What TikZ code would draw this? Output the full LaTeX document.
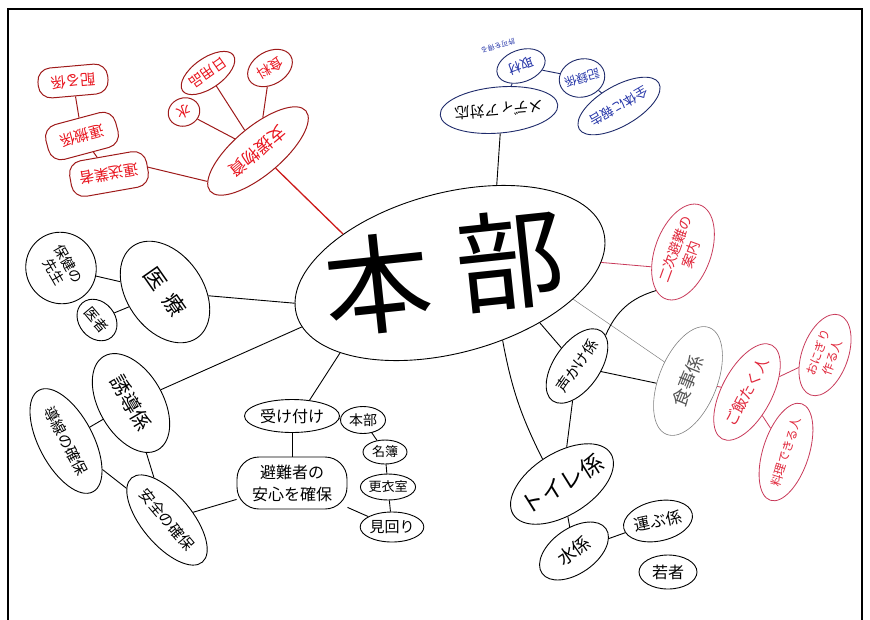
\documentclass[tikz,border=0pt]{standalone}
\usepackage{fontspec}
\setmainfont{Noto Sans CJK JP}
\usetikzlibrary{shapes.geometric}
\definecolor{dred}{HTML}{9E1A1A}
\definecolor{tred}{HTML}{E8141E}
\definecolor{mred}{HTML}{CC1A1A}
\definecolor{pline}{HTML}{C83A5A}
\definecolor{ptext}{HTML}{E0283C}
\definecolor{nline}{HTML}{1F2B6B}
\definecolor{ntext}{HTML}{2434A8}
\definecolor{gline}{HTML}{808080}
\definecolor{gtext}{HTML}{555555}
\begin{document}
\begin{tikzpicture}[x=1pt,y=-1pt,
  bb/.style={draw, ellipse, line width=0.9pt, inner sep=0pt, align=center},
  rb/.style={draw=dred, rectangle, rounded corners=13pt, line width=1pt, text=tred, inner sep=3pt, align=center},
  re/.style={draw=dred, ellipse, line width=1pt, text=tred, inner sep=0pt, align=center},
  pe/.style={draw=pline, ellipse, line width=0.8pt, text=ptext, inner sep=0pt, align=center},
  ne/.style={draw=nline, ellipse, line width=0.9pt, text=ntext, inner sep=0pt, align=center},
  ge/.style={draw=gline, ellipse, line width=0.6pt, text=gtext, inner sep=0pt, align=center},
  lk/.style={line width=0.9pt},
  rlk/.style={draw=dred, line width=1pt},
  plk/.style={draw=pline, line width=0.8pt},
  nlk/.style={draw=nline, line width=0.9pt},
  glk/.style={draw=gline, line width=0.5pt}
]
\useasboundingbox (0,0) rectangle (870,619);
\draw[line width=1.3pt] (8,625) -- (8,9) -- (862,9) -- (862,625);

% centre
\node[bb, minimum width=318pt, minimum height=160pt, rotate=15] (honbu) at (450,273) {};
\node[font=\fontsize{108}{108}\selectfont, rotate=6] (t1) at (378,284) {本};
\node[font=\fontsize{108}{108}\selectfont, rotate=6] (t2) at (510,260) {部};

% red group (top left)
\node[rb, minimum width=70pt, minimum height=30pt, rotate=185, font=\fontsize{15}{15}\selectfont] (kubaru) at (73,81) {配る係};
\node[rb, minimum width=72pt, minimum height=36pt, rotate=195, font=\fontsize{15}{15}\selectfont] (unpan) at (82,136) {運搬係};
\node[rb, minimum width=78pt, minimum height=36pt, rotate=190, font=\fontsize{15}{15}\selectfont] (unso) at (109,174) {運送業者};
\node[re, minimum width=125pt, minimum height=48pt, rotate=220, font=\fontsize{17}{17}\selectfont] (shien) at (258,151) {支援物資};
\node[re, minimum width=32pt, minimum height=28pt, rotate=200, font=\fontsize{14}{14}\selectfont] (mizu2) at (184,112) {水};
\node[re, minimum width=62pt, minimum height=30pt, rotate=215, font=\fontsize{14}{14}\selectfont] (nichiyo) at (208,73) {日用品};
\node[re, minimum width=48pt, minimum height=33pt, rotate=210, font=\fontsize{14}{14}\selectfont] (shokuryo) at (270,68) {食料};

% blue group (top)
\node[ne, text=black, inner xsep=-10pt, minimum width=118pt, minimum height=46pt, rotate=185, font=\fontsize{15}{15}\selectfont] (media) at (499,110) {メディア対応};
\node[ne, minimum width=50pt, minimum height=32pt, rotate=200, font=\fontsize{13}{13}\selectfont] (shuzai) at (521,66) {取材};
\node[text=ntext, rotate=195, font=\fontsize{7}{7}\selectfont, inner sep=0pt] (note) at (498,46) {許可を得る};
\node[ne, inner xsep=-4pt, minimum width=46pt, minimum height=38pt, rotate=195, font=\fontsize{12}{12}\selectfont] (kiroku) at (582,78) {記録係};
\node[ne, inner xsep=-2pt, minimum width=92pt, minimum height=40pt, rotate=210, font=\fontsize{13}{13}\selectfont] (zentai) at (619,106) {全体に報告};

% pink group (right)
\node[pe, minimum width=100pt, minimum height=56pt, rotate=70, font=\fontsize{14}{17}\selectfont] (niji) at (683,252) {二次避難の\\案内};
\node[pe, minimum width=105pt, minimum height=50pt, rotate=62, font=\fontsize{15}{15}\selectfont] (gohan) at (747,392) {ご飯たく人};
\node[pe, minimum width=85pt, minimum height=46pt, rotate=70, font=\fontsize{12}{15}\selectfont] (onigiri) at (825,355) {おにぎり\\作る人};
\node[pe, minimum width=100pt, minimum height=46pt, rotate=72, font=\fontsize{12}{12}\selectfont] (ryori) at (786,452) {料理できる人};
\node[ge, minimum width=115pt, minimum height=58pt, rotate=68, font=\fontsize{18}{18}\selectfont] (shokuji) at (688,381) {食事係};

% black right
\node[bb, minimum width=85pt, minimum height=46pt, rotate=55, font=\fontsize{15}{15}\selectfont] (koekake) at (577,366) {声かけ係};
\node[bb, inner xsep=-14pt, minimum width=115pt, minimum height=62pt, rotate=32, font=\fontsize{23}{23}\selectfont] (toire) at (562,484) {トイレ係};
\node[bb, minimum width=78pt, minimum height=45pt, rotate=35, font=\fontsize{18}{18}\selectfont] (mizu) at (574,551) {水係};
\node[bb, minimum width=70pt, minimum height=40pt, rotate=12, font=\fontsize{16}{16}\selectfont] (hakobu) at (658,521) {運ぶ係};
\node[bb, minimum width=58pt, minimum height=34pt, font=\fontsize{16}{16}\selectfont] (waka) at (668,572) {若者};

% left
\node[bb, minimum width=112pt, minimum height=76pt, rotate=-55, font=\fontsize{22}{22}\selectfont] (iryo) at (165,292) {医\hspace{10pt}療};
\node[bb, minimum width=72pt, minimum height=70pt, rotate=-60, font=\fontsize{14}{17}\selectfont] (hoken) at (61,268) {保健の\\先生};
\node[bb, minimum width=45pt, minimum height=36pt, rotate=-50, font=\fontsize{14}{14}\selectfont] (isha) at (97,320) {医者};
\node[bb, minimum width=108pt, minimum height=64pt, rotate=-60, font=\fontsize{20}{20}\selectfont] (yudo) at (131,403) {誘導係};
\node[bb, minimum width=115pt, minimum height=54pt, rotate=-62, font=\fontsize{15}{15}\selectfont] (dosen) at (66,441) {導線の確保};
\node[bb, minimum width=110pt, minimum height=50pt, rotate=-50, font=\fontsize{15}{15}\selectfont] (anzen) at (167,520) {安全の確保};

% bottom middle
\node[bb, minimum width=95pt, minimum height=33pt, font=\fontsize{16}{16}\selectfont] (uke) at (292,416) {受け付け};
\node[draw, rounded corners=22pt, line width=0.9pt, minimum width=110pt, minimum height=52pt, align=center, font=\fontsize{16}{22}\selectfont] (hinan) at (292,483) {避難者の\\安心を確保};
\node[bb, minimum width=45pt, minimum height=27pt, font=\fontsize{14}{14}\selectfont] (honbu2) at (363,420) {本部};
\node[bb, minimum width=44pt, minimum height=24pt, font=\fontsize{13}{13}\selectfont] (meibo) at (385,452) {名簿};
\node[bb, minimum width=50pt, minimum height=26pt, font=\fontsize{13}{13}\selectfont] (koui) at (388,487) {更衣室};
\node[bb, minimum width=60pt, minimum height=30pt, font=\fontsize{15}{15}\selectfont] (mimawari) at (392,527) {見回り};

% connectors: red
\draw[draw=mred, line width=1.3pt] (shien) -- (honbu.145);
\draw[rlk] (shien) -- (mizu2);
\draw[rlk] (shien) -- (nichiyo);
\draw[rlk] (shien) -- (shokuryo);
\draw[rlk] (unso.180) -- (shien.-9);
\draw[rlk] (unso) -- (unpan);
\draw[rlk] (unpan) -- (kubaru);

% blue
\draw[lk] (honbu.47) -- (media.88);
\draw[nlk] (media) -- (shuzai);
\draw[nlk] (shuzai) -- (kiroku);
\draw[nlk] (kiroku) -- (zentai);

% pink
\draw[plk] (honbu.-11) -- (niji.135);
\draw[plk] (shokuji) -- (gohan);
\draw[plk] (gohan) -- (onigiri);
\draw[plk] (gohan) -- (ryori);

% gray
\draw[glk] (honbu.-27) -- (shokuji.73);

% black right
\draw[lk] (honbu.-44) -- (koekake);
\draw[lk] (koekake.-8) to[bend left=25] (niji.165);
\draw[lk] (koekake.-68) -- (shokuji.116);
\draw[lk] (honbu.-67) to[bend right=8] (toire.96);
\draw[lk] (koekake) -- (toire);
\draw[lk] (toire) -- (mizu);
\draw[lk] (mizu) -- (hakobu);

% black left
\draw[lk] (honbu.176) -- (iryo);
\draw[lk] (iryo) -- (hoken);
\draw[lk] (iryo) -- (isha);
\draw[lk] (honbu.185) -- (yudo);
\draw[lk] (yudo) -- (dosen);
\draw[lk] (yudo) -- (anzen);
\draw[lk] (dosen) -- (anzen);
\draw[lk] (anzen) -- (hinan);

% black bottom
\draw[lk] (honbu.201) -- (uke.42);
\draw[lk] (uke) -- (hinan);
\draw[lk] (uke) -- (honbu2);
\draw[lk] (honbu2) -- (meibo);
\draw[lk] (meibo) -- (koui);
\draw[lk] (koui) -- (mimawari);
\draw[lk] (hinan) -- (mimawari);
\end{tikzpicture}
\end{document}
